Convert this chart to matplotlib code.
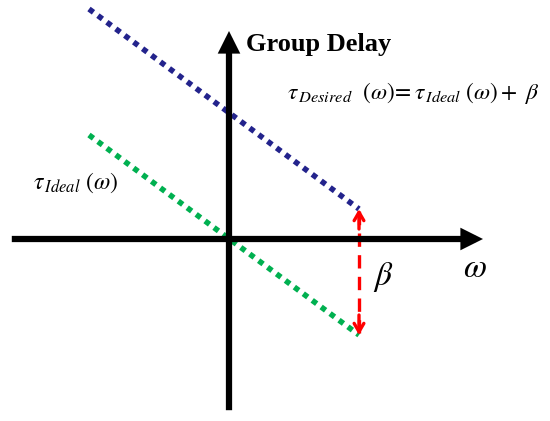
import matplotlib.pyplot as plt

plt.rcParams['mathtext.fontset'] = 'stix'
plt.rcParams['font.family'] = ['Liberation Serif', 'DejaVu Serif']

# frequency range (arbitrary units) and ideal group delay
omega = [-3.5, 3.25]
tau_ideal = [2.6, -2.4]
beta = 3.15
tau_desired = [t + beta for t in tau_ideal]

fig = plt.figure(figsize=(5.5, 4.21), dpi=100)
ax = fig.add_axes([0, 0, 1, 1])
ax.set_xlim(-229 / 40, 321 / 40)
ax.set_ylim(-182 / 40, 239 / 40)
ax.axis('off')

# axes with arrows
axis_arrow = dict(arrowstyle='-|>,head_length=0.9,head_width=0.45', lw=4.5,
                  color='black', shrinkA=0, shrinkB=0,
                  capstyle='butt', joinstyle='miter')
ax.annotate('', xy=(6.35, 0), xytext=(-5.43, 0), arrowprops=axis_arrow)
ax.annotate('', xy=(0, 5.2), xytext=(0, -4.28), arrowprops=axis_arrow)

# delay lines
ax.plot(omega, tau_desired, color='#23238c', lw=4, ls=(0, (1, 1)),
        dash_capstyle='butt')
ax.plot(omega, tau_ideal, color='#00b050', lw=4, ls=(0, (1, 1)),
        dash_capstyle='butt')

# beta offset arrow
xb = omega[1]
ax.plot([xb, xb], [tau_ideal[1] + 0.05, tau_desired[1] - 0.05], color='red',
        lw=2.4, ls=(0, (4, 2.5)))
for tip, tail in [(tau_desired[1], tau_desired[1] - 0.5), (tau_ideal[1], tau_ideal[1] + 0.5)]:
    ax.annotate('', xy=(xb, tip), xytext=(xb, tail),
                arrowprops=dict(arrowstyle='->,head_length=0.6,head_width=0.35',
                                lw=2.4, color='red', shrinkA=0, shrinkB=0))

# labels
ax.text(0.43, 4.85, 'Group Delay', fontsize=19, fontweight='bold',
        ha='left', va='center')
ax.text(1.45, 3.65, r'$\tau_{\,Desired}\ \ (\omega)\!=\tau_{\,Ideal}\ (\omega)+\ \beta$',
        fontsize=16.8, ha='left', va='center')
ax.text(-4.9, 1.4, r'$\tau_{\,Ideal}\ (\omega)$', fontsize=17, ha='left', va='center')
ax.text(5.85, -0.75, r'$\omega$', fontsize=24, ha='left', va='center')
ax.text(3.6, -0.95, r'$\beta$', fontsize=24, ha='left', va='center')

fig.savefig('out.png', dpi=100)
